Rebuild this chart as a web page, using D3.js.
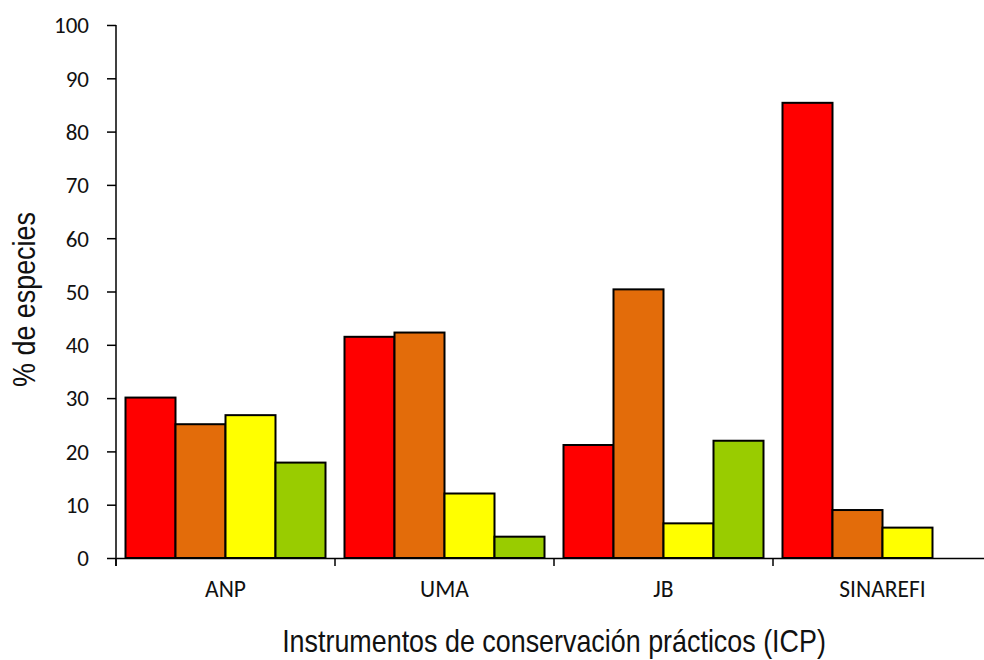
<!DOCTYPE html>
<html>
<head>
<meta charset="utf-8">
<script src="https://cdn.jsdelivr.net/npm/d3@7"></script>
<style>
  body { margin: 0; background: #fff; }
  .tick text { font-family: Carlito, 'Open Sans', sans-serif; }
</style>
</head>
<body>
<svg id="chart" width="984" height="660"></svg>
<script>
// Categories (ICP) and the four series
var categories = ["ANP", "UMA", "JB", "SINAREFI"];
var seriesNames = ["s1", "s2", "s3", "s4"];
var redValues    = [30.1, 41.5, 21.2, 85.4];
var orangeValues = [25.1, 42.3, 50.4, 9.0];
var yellowValues = [26.8, 12.1, 6.5, 5.7];
var greenValues  = [17.9, 4.0, 22.0, null];
var yTicks = [0, 10, 20, 30, 40, 50, 60, 70, 80, 90, 100];
var colors = ["#ff0000", "#e36c0a", "#ffff00", "#99cc00"];

var allSeries = [redValues, orangeValues, yellowValues, greenValues];

var svg = d3.select("#chart");

// plot area
var pLeft = 116, pRight = 992, pTop = 25, pBottom = 558;

var x0 = d3.scaleBand()
    .domain(categories)
    .range([pLeft, pRight])
    .padding(0);

var x1 = d3.scaleBand()
    .domain(seriesNames)
    .range([0, x0.bandwidth()])
    .paddingInner(0)
    .paddingOuter(0.19);

var y = d3.scaleLinear()
    .domain([0, 100])
    .range([pBottom, pTop]);

// build rows for the bars
var rows = [];
categories.forEach(function(c, ci) {
  allSeries.forEach(function(vals, si) {
    if (vals[ci] != null) rows.push({cat: c, s: seriesNames[si], v: vals[ci], color: colors[si]});
  });
});

// bars
svg.append("g")
  .selectAll("rect")
  .data(rows)
  .enter()
  .append("rect")
    .attr("x", function(d){ return x0(d.cat) + x1(d.s) })
    .attr("y", function(d){ return y(d.v) })
    .attr("width", x1.bandwidth())
    .attr("height", function(d){ return y(0) - y(d.v) })
    .attr("fill", function(d){ return d.color })
    .attr("stroke", "#000")
    .attr("stroke-width", 2);

// y axis
var yAxis = svg.append("g")
    .attr("transform", "translate(" + pLeft + ",0)")
    .call(d3.axisLeft(y).tickValues(yTicks).tickSize(9).tickPadding(18).tickSizeOuter(0));
yAxis.select(".domain").attr("stroke-width", 1.5)
    .attr("d", "M0," + pTop + "V" + (pBottom + 8));
yAxis.selectAll(".tick line").attr("stroke-width", 1.5);
yAxis.selectAll(".tick text")
    .attr("font-size", 23)
    .attr("fill", "#111")
    .attr("dy", "0.34em");

// x axis: ticks at category boundaries
var xAxis = svg.append("g")
    .attr("transform", "translate(0," + pBottom + ")")
    .call(d3.axisBottom(x0).tickSize(0).tickPadding(22).tickSizeOuter(0));
xAxis.select(".domain").attr("stroke-width", 1.5);
xAxis.selectAll(".tick text")
    .attr("font-size", 23.5)
    .attr("fill", "#111");

svg.append("g")
  .selectAll("line")
  .data(categories)
  .enter()
  .append("line")
    .attr("x1", function(d){ return x0(d) })
    .attr("x2", function(d){ return x0(d) })
    .attr("y1", pBottom)
    .attr("y2", pBottom + 8)
    .attr("stroke", "#000")
    .attr("stroke-width", 1.5);

// axis titles (narrow, like the original)
svg.append("text")
    .attr("transform", "translate(" + ((pLeft + pRight) / 2) + ",652) scale(0.84,1)")
    .attr("text-anchor", "middle")
    .attr("font-family", "'Liberation Sans', Arial, sans-serif")
    .attr("font-size", 32)
    .attr("fill", "#111")
    .text("Instrumentos de conservación prácticos (ICP)");

svg.append("text")
    .attr("transform", "translate(35," + ((pTop + pBottom) / 2 + 8) + ") rotate(-90) scale(0.84,1)")
    .attr("text-anchor", "middle")
    .attr("font-family", "'Liberation Sans', Arial, sans-serif")
    .attr("font-size", 32)
    .attr("fill", "#111")
    .text("% de especies");
</script>
</body>
</html>
